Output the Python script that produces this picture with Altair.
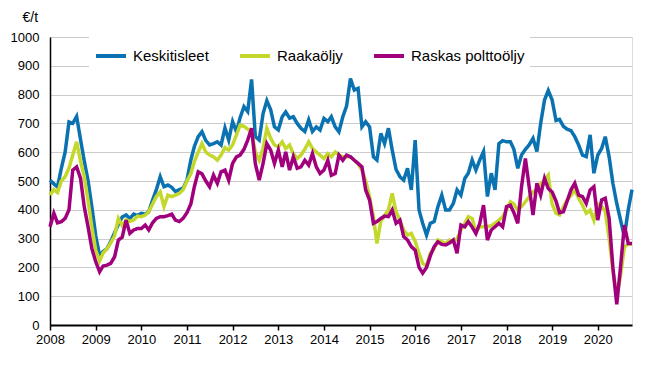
import altair as alt
import pandas as pd

years = list(range(2008, 2021))
series_names = ["Keskitisleet", "Raakaöljy", "Raskas polttoöljy"]
series_colors = ["#0a72b0", "#c4d82c", "#a1007d"]
y_ticks = list(range(0, 1001, 100))

# monthly values Jan 2008 - Oct 2020 (EUR/t)
keskitisleet = [
    503, 490, 479, 545, 600, 705, 700, 724, 645, 570, 500, 410,
    310, 240, 255, 265, 290, 320, 350, 375, 382, 370, 385, 380,
    388, 385, 393, 434, 470, 515, 480, 486, 478, 463, 470, 475,
    503, 573, 620, 654, 671, 640, 625, 630, 636, 625, 684, 642,
    706, 671, 720, 758, 741, 853, 654, 642, 734, 779, 747, 688,
    677, 723, 740, 718, 723, 700, 683, 672, 712, 672, 688, 677,
    717, 706, 723, 688, 671, 723, 760, 856, 816, 822, 688, 706,
    688, 584, 573, 665, 630, 683, 608, 540, 515, 503, 544, 469,
    642, 399, 353, 312, 353, 359, 411, 451, 399, 399, 422, 469,
    451, 509, 527, 573, 538, 573, 602, 446, 527, 469, 630, 640,
    636, 636, 610, 544, 590, 610, 625, 648, 602, 700, 781, 814,
    781, 710, 714, 690, 680, 675, 654, 625, 590, 585, 660, 527,
    590, 613, 654, 584, 492, 422, 365, 307, 400, 470,
]
raakaoljy = [
    451, 470, 460, 500, 515, 545, 590, 636, 570, 515, 430, 340,
    260, 222, 250, 265, 285, 310, 370, 345, 365, 360, 365, 378,
    376, 382, 393, 420, 446, 462, 411, 451, 446, 451, 457, 470,
    500, 526, 567, 600, 630, 600, 590, 584, 572, 590, 616, 607,
    625, 660, 694, 690, 680, 671, 600, 572, 613, 683, 648, 625,
    619, 636, 613, 625, 595, 578, 590, 610, 636, 613, 600, 590,
    578, 595, 584, 601, 590, 584, 584, 584, 572, 560, 538, 500,
    446, 376, 283, 360, 380, 400, 457, 393, 364, 330, 312, 318,
    290, 249, 214, 205, 249, 265, 295, 290, 283, 295, 289, 300,
    330, 353, 376, 370, 324, 341, 341, 341, 345, 353, 364, 376,
    400, 428, 420, 399, 411, 428, 445, 462, 470, 490, 503, 520,
    420, 388, 382, 410, 434, 450, 469, 440, 416, 388, 399, 364,
    420, 411, 395, 300, 190, 100, 170, 270, 282, 280,
]
raskas = [
    341, 388, 355, 359, 370, 400, 538, 549, 510, 411, 340, 265,
    220, 185, 205, 208, 214, 237, 295, 305, 364, 318, 330, 335,
    335, 347, 330, 355, 370, 376, 376, 380, 385, 364, 359, 370,
    390, 420, 480, 532, 525, 500, 480, 520, 492, 532, 538, 503,
    561, 584, 590, 610, 642, 683, 560, 503, 561, 630, 607, 561,
    607, 549, 601, 538, 584, 544, 549, 572, 555, 595, 549, 526,
    538, 572, 520, 526, 590, 572, 590, 584, 572, 561, 549, 469,
    434, 353, 359, 370, 378, 376, 399, 353, 364, 307, 295, 272,
    260, 200, 180, 200, 240, 272, 289, 280, 278, 285, 295, 249,
    347, 341, 359, 340, 318, 353, 416, 295, 330, 341, 353, 341,
    411, 416, 390, 353, 480, 578, 480, 382, 492, 451, 509, 474,
    462, 430, 390, 393, 430, 470, 492, 451, 446, 422, 469, 480,
    364, 434, 440, 370, 200, 72, 200, 347, 283, 283,
]

months = pd.date_range("2008-01-01", periods=len(keskitisleet), freq="MS")
rows = []
for name, vals in zip(series_names, [keskitisleet, raakaoljy, raskas]):
    for d, v in zip(months, vals):
        rows.append({"kk": d.strftime("%Y-%m-%dT00:00:00"), "sarja": name, "hinta": v})
df = pd.DataFrame(rows)

FONT = "Liberation Sans"

x_enc = alt.X(
    "kk:T",
    scale=alt.Scale(
        domain=[alt.DateTime(year=2008, month=1, date=1), alt.DateTime(year=2020, month=10, date=1)],
        nice=False,
    ),
    axis=alt.Axis(
        title=None,
        values=[alt.DateTime(year=y, month=1, date=1) for y in years],
        format="%Y",
        grid=False,
        domainColor="black",
        domainWidth=2,
        tickColor="black",
        tickWidth=1.5,
        tickSize=5,
        labelFontSize=13,
        labelColor="black",
        labelFont=FONT,
        labelPadding=3,
        labelFlush=False,
        labelOverlap=False,
    ),
)
y_enc = alt.Y(
    "hinta:Q",
    scale=alt.Scale(domain=[0, 1000], nice=False),
    axis=alt.Axis(
        values=y_ticks,
        format="d",
        title="€/t",
        titleAngle=0,
        titleAlign="left",
        titleBaseline="middle",
        titleX=-28,
        titleY=-20,
        titleFontSize=14,
        titleFontWeight="normal",
        titleFont=FONT,
        titleColor="black",
        labelFontSize=13,
        labelColor="black",
        labelFont=FONT,
        labelPadding=11,
        ticks=False,
        domainColor="black",
        domainWidth=1.5,
        gridColor="#cccccc",
        gridWidth=1.2,
    ),
)
color_enc = alt.Color(
    "sarja:N",
    scale=alt.Scale(domain=series_names, range=series_colors),
    legend=alt.Legend(
        title=None,
        orient="none",
        direction="horizontal",
        legendX=39,
        legendY=-3,
        fillColor="white",
        padding=5,
        symbolType="stroke",
        symbolSize=900,
        symbolStrokeWidth=4,
        labelFontSize=15,
        labelFont=FONT,
        labelColor="black",
        labelOffset=5,
        columnPadding=23,
    ),
)

layers = []
for name in series_names:
    layers.append(
        alt.Chart(df)
        .transform_filter(alt.datum.sarja == name)
        .mark_line(strokeWidth=3.5)
        .encode(x=x_enc, y=y_enc, color=color_enc)
    )

chart = (
    alt.layer(*layers)
    .properties(
        width=582,
        height=288,
        autosize=alt.AutoSizeParams(type="none"),
        padding={"left": 42, "top": 29, "right": 10, "bottom": 30},
        background="white",
    )
    .configure_view(stroke=None)
    .configure(font=FONT)
)

chart.save("out.html", embed_options={"renderer": "svg", "actions": False})
